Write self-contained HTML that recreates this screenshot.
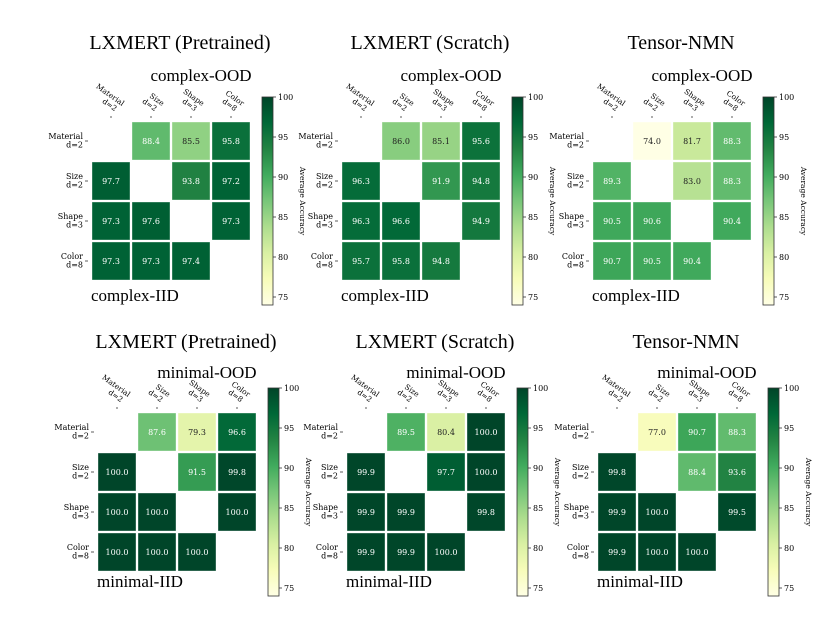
<!DOCTYPE html>
<html><head><meta charset="utf-8">
<style>
html,body{margin:0;padding:0;background:#fff;}
svg{display:block;}
text{font-family:"DejaVu Serif","Liberation Serif",serif;}
.big{font-family:"Liberation Serif","DejaVu Serif",serif;}
</style></head>
<body>
<svg id="fig" width="830" height="636" viewBox="0 0 830 636" xmlns="http://www.w3.org/2000/svg"></svg>
<script>
const categories = ["Material", "Size", "Shape", "Color"];
const dims = ["d=2", "d=2", "d=3", "d=8"];
const panelTitles = ["LXMERT (Pretrained)", "LXMERT (Scratch)", "Tensor-NMN", "LXMERT (Pretrained)", "LXMERT (Scratch)", "Tensor-NMN"];
const oodTitles = ["complex-OOD", "complex-OOD", "complex-OOD", "minimal-OOD", "minimal-OOD", "minimal-OOD"];
const iidTitles = ["complex-IID", "complex-IID", "complex-IID", "minimal-IID", "minimal-IID", "minimal-IID"];
const values1 = [[null,88.4,85.5,95.8],[97.7,null,93.8,97.2],[97.3,97.6,null,97.3],[97.3,97.3,97.4,null]];
const values2 = [[null,86.0,85.1,95.6],[96.3,null,91.9,94.8],[96.3,96.6,null,94.9],[95.7,95.8,94.8,null]];
const values3 = [[null,74.0,81.7,88.3],[89.3,null,83.0,88.3],[90.5,90.6,null,90.4],[90.7,90.5,90.4,null]];
const values4 = [[null,87.6,79.3,96.6],[100.0,null,91.5,99.8],[100.0,100.0,null,100.0],[100.0,100.0,100.0,null]];
const values5 = [[null,89.5,80.4,100.0],[99.9,null,97.7,100.0],[99.9,99.9,null,99.8],[99.9,99.9,100.0,null]];
const values6 = [[null,77.0,90.7,88.3],[99.8,null,88.4,93.6],[99.9,100.0,null,99.5],[99.9,100.0,100.0,null]];
const colorTicks = [75, 80, 85, 90, 95, 100];
const vMin = 74, vMax = 100;

const allValues = [values1, values2, values3, values4, values5, values6];
const origins = [[91,121],[341,121],[592,121],[97,412],[346,412],[597,412]];
const NS = "http://www.w3.org/2000/svg";
const svg = document.getElementById("fig");
const stops = ["#ffffe5","#f7fcb9","#d9f0a3","#addd8e","#78c679","#41ab5d","#238443","#006837","#004529"];
function hex(h){return [parseInt(h.substr(1,2),16),parseInt(h.substr(3,2),16),parseInt(h.substr(5,2),16)];}
function cmap(v){
  let t=(v-vMin)/(vMax-vMin); t=Math.max(0,Math.min(1,t));
  const p=t*(stops.length-1); const i=Math.min(stops.length-2,Math.floor(p)); const f=p-i;
  const a=hex(stops[i]), b=hex(stops[i+1]);
  return "rgb("+a.map((c,k)=>Math.round(c+(b[k]-c)*f)).join(",")+")";
}
function el(tag, attrs, parent){
  const e=document.createElementNS(NS,tag);
  for(const k in attrs) e.setAttribute(k, attrs[k]);
  (parent||svg).appendChild(e); return e;
}
const pitch = 40;
allValues.forEach((vals, p) => {
  const [x0,y0] = origins[p];
  const top = p < 3;
  const g = el("g", {});
  
  
  const xScale = c => x0 + c*pitch;
  const yScale = r => y0 + r*pitch;
  const t = el("text", {x: x0+89, y: y0-(top?72:64), "text-anchor":"middle", "font-size":"20", class:"big"}, g);
  t.textContent = panelTitles[p];
  
  
  const o = el("text", {x: x0+110, y: y0-(top?40:34), "text-anchor":"middle", "font-size":"17", class:"big"}, g);
  o.textContent = oodTitles[p];
  
  
  const ii = el("text", {x: x0, y: y0+(top?180:175), "text-anchor":"start", "font-size":"17", class:"big"}, g);
  ii.textContent = iidTitles[p];
  
  
  vals.forEach((row, r) => row.forEach((v, c) => {
    if (v === null) return;
    const rc = el("rect", {x: xScale(c)+1, y: yScale(r)+1, width: pitch-2, height: pitch-2, fill: cmap(v), stroke:"#ffffff", "stroke-opacity":"0.6", "stroke-width":"0.6"}, g);
    
    
    const tx = el("text", {x: xScale(c)+pitch/2, y: yScale(r)+pitch/2+3, "text-anchor":"middle", "font-size":"8", fill: v > 86.5 ? "#ffffff" : "#222222"}, g);
    tx.textContent = v.toFixed(1);
    
    
  }));
  categories.forEach((cat, c) => {
    const cx = xScale(c)+pitch/2;
    el("line", {x1: cx, y1: y0-5, x2: cx, y2: y0-3, stroke:"#333", "stroke-width":"0.8"}, g);
    const lab = el("text", {transform:`translate(${cx+4},${y0-10}) rotate(35)`, "text-anchor":"end", "font-size":"7.5"}, g);
    
    
    const t1 = el("tspan", {x: 3, dy: "-8"}, lab); t1.textContent = cat;
    const t2 = el("tspan", {x: 0, dy: "8.5"}, lab); t2.textContent = dims[c];
  });
  categories.forEach((cat, r) => {
    const cy = yScale(r)+pitch/2;
    el("line", {x1: x0-6, y1: cy, x2: x0-3, y2: cy, stroke:"#333", "stroke-width":"0.8"}, g);
    const lab = el("text", {x: x0-8, y: cy-2, "text-anchor":"end", "font-size":"8"}, g);
    
    
    const t1 = el("tspan", {x: x0-8, dy: "0"}, lab); t1.textContent = cat;
    const t2 = el("tspan", {x: x0-8, dy: "8.5"}, lab); t2.textContent = dims[r];
  });
  const cbx = x0+171, cbTop = y0-24, cbH = 208, cbW = 11;
  const cy = v => cbTop + (vMax - v)/(vMax - vMin)*cbH;
  const gid = "grad"+p;
  const defs = el("defs", {}, g);
  const lg = el("linearGradient", {id: gid, x1:"0", y1:"1", x2:"0", y2:"0"}, defs);
  stops.forEach((s,i) => el("stop", {offset: (i/(stops.length-1)), "stop-color": s}, lg));
  const cb = el("rect", {x: cbx, y: cbTop, width: cbW, height: cbH, fill: `url(#${gid})`, stroke:"#333", "stroke-width":"0.8"}, g);
  
  
  colorTicks.forEach(tv => {
    el("line", {x1: cbx+cbW, y1: cy(tv), x2: cbx+cbW+3, y2: cy(tv), stroke:"#333", "stroke-width":"0.8"}, g);
    const tl = el("text", {x: cbx+cbW+5, y: cy(tv)+3, "font-size":"8"}, g);
    tl.textContent = tv;
    
    
  });
  const cl = el("text", {transform:`translate(${cbx+cbW+27},${cbTop+cbH/2}) rotate(90)`, "text-anchor":"middle", "font-size":"7.5"}, g);
  cl.textContent = "Average Accuracy";
  
  
});
</script>
</body></html>
